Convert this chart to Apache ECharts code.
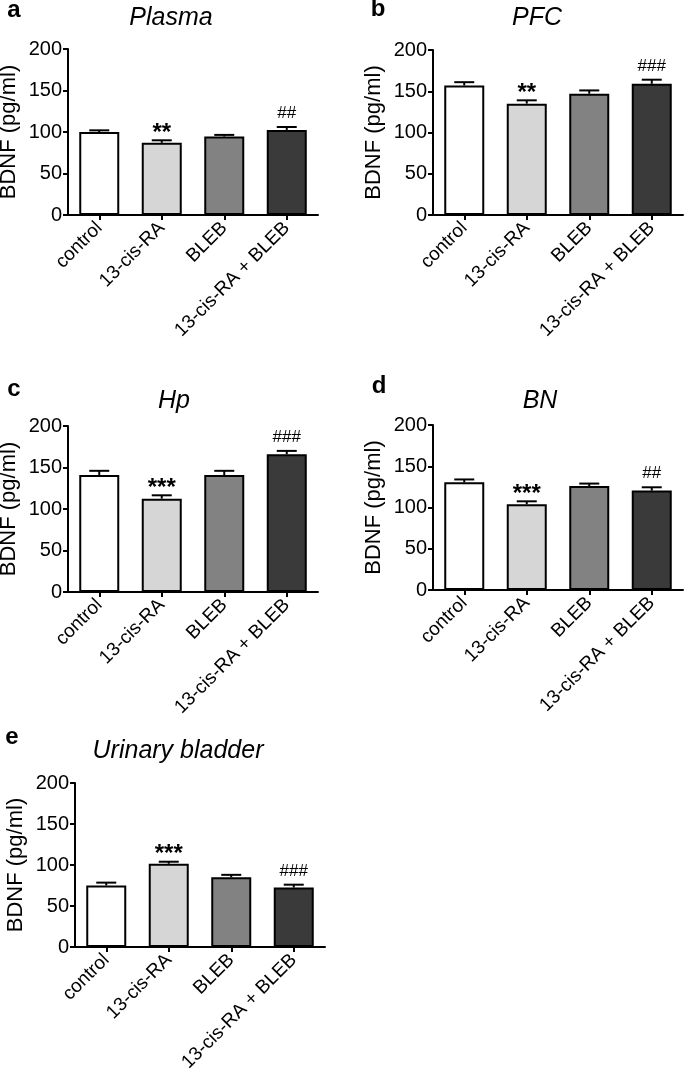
<!DOCTYPE html>
<html>
<head>
<meta charset="utf-8">
<script src="https://cdn.jsdelivr.net/npm/echarts@6/dist/echarts.min.js"></script>
<style>
html,body{margin:0;padding:0;background:#fff;}
#chart{width:685px;height:1071px;}
</style>
</head>
<body>
<div id="chart"></div>
<script>
// ---- data ----
const categories = ['control', '13-cis-RA', 'BLEB', '13-cis-RA + BLEB'];
const yTicks = [0, 50, 100, 150, 200];

const plasmaMean = [100, 87, 94.5, 102.5];
const plasmaErr  = [2, 3, 2, 3.5];
const plasmaMarks = ['', '**', '', '##'];

const pfcMean = [157, 135, 147, 159];
const pfcErr  = [4, 4, 4, 5];
const pfcMarks = ['', '**', '', '###'];

const hpMean = [141, 112.5, 141, 166];
const hpErr  = [5, 4, 5, 4];
const hpMarks = ['', '***', '', '###'];

const bnMean = [130.5, 104, 126, 120.5];
const bnErr  = [3.5, 3.5, 3, 4];
const bnMarks = ['', '***', '', '##'];

const ubMean = [75, 101.5, 85, 72.5];
const ubErr  = [3.5, 2.5, 3, 3.5];
const ubMarks = ['', '***', '', '###'];

const panelLetters = ['a', 'b', 'c', 'd', 'e'];
const panelTitles = ['Plasma', 'PFC', 'Hp', 'BN', 'Urinary bladder'];
const yAxisName = 'BDNF (pg/ml)';

// ---- layout / style ----
const FONT = '"Liberation Sans", Arial, Helvetica, sans-serif';
const barColors = ['#ffffff', '#d6d6d6', '#828282', '#3a3a3a'];

const panels = [
  {mean: plasmaMean, err: plasmaErr, marks: plasmaMarks, grid: {left: 68, top: 49, width: 250, height: 166}, letterPos: [14, 10], titlePos: [171, 18]},
  {mean: pfcMean, err: pfcErr, marks: pfcMarks, grid: {left: 433, top: 50, width: 250, height: 165}, letterPos: [378, 9], titlePos: [537, 18]},
  {mean: hpMean, err: hpErr, marks: hpMarks, grid: {left: 68, top: 426, width: 250, height: 166}, letterPos: [14, 389], titlePos: [174, 401]},
  {mean: bnMean, err: bnErr, marks: bnMarks, grid: {left: 433, top: 425, width: 250, height: 165}, letterPos: [379, 386], titlePos: [540, 401]},
  {mean: ubMean, err: ubErr, marks: ubMarks, grid: {left: 75, top: 783, width: 250, height: 164}, letterPos: [12, 737], titlePos: [178, 751]}
];

const grids = [], xAxes = [], yAxes = [], series = [], graphics = [];

panels.forEach((p, i) => {
  grids.push(Object.assign({containLabel: false, outerBoundsMode: 'none'}, p.grid));
  xAxes.push({
    type: 'category', gridIndex: i, data: categories,
    axisLine: {lineStyle: {color: '#000', width: 2}},
    axisTick: {show: true, alignWithLabel: true, length: 5, lineStyle: {color: '#000', width: 2}},
    axisLabel: {rotate: 45, interval: 0, margin: 10, color: '#000', fontFamily: FONT, fontSize: 19},
    splitLine: {show: false}
  });
  yAxes.push({
    type: 'value', gridIndex: i, min: yTicks[0], max: yTicks[yTicks.length - 1], interval: yTicks[1] - yTicks[0],
    name: yAxisName, nameLocation: 'middle', nameGap: 48, nameRotate: 90,
    nameTextStyle: {color: '#000', fontFamily: FONT, fontSize: 22},
    axisLine: {show: true, lineStyle: {color: '#000', width: 2}},
    axisTick: {show: true, length: 5, lineStyle: {color: '#000', width: 2}},
    axisLabel: {margin: 6, color: '#000', fontFamily: FONT, fontSize: 20},
    splitLine: {show: false}
  });
  series.push({
    type: 'bar', xAxisIndex: i, yAxisIndex: i, barWidth: 40,
    data: p.mean.map((v, k) => ({value: v, itemStyle: {color: barColors[k], borderColor: '#000', borderWidth: 2}})),
    z: 2, silent: true
  });
  series.push({
    type: 'custom', xAxisIndex: i, yAxisIndex: i, z: 3, silent: true,
    data: p.mean.map((v, k) => [k, v, p.err[k]]),
    renderItem: function (params, api) {
      const idx = api.value(0), m = api.value(1), e = api.value(2);
      const mark = p.marks[idx];
      const base = api.coord([idx, m]);
      const top = api.coord([idx, m + e]);
      const children = [
        {type: 'line', shape: {x1: top[0], y1: base[1], x2: top[0], y2: top[1]}, style: {stroke: '#000', lineWidth: 2}},
        {type: 'line', shape: {x1: top[0] - 10, y1: top[1], x2: top[0] + 10, y2: top[1]}, style: {stroke: '#000', lineWidth: 2}}
      ];
      if (mark) {
        const isStar = mark.charAt(0) === '*';
        children.push({
          type: 'text',
          style: {
            text: mark, x: top[0], y: top[1] - (isStar ? 7 : 13.5),
            align: 'center', verticalAlign: 'middle',
            font: (isStar ? 'bold 24px ' : '17px ') + FONT, fill: '#000'
          }
        });
      }
      return {type: 'group', children: children};
    }
  });
  graphics.push({
    type: 'text', x: p.letterPos[0], y: p.letterPos[1],
    style: {text: panelLetters[i], font: 'bold 24px ' + FONT, fill: '#000', align: 'center', verticalAlign: 'middle'}
  });
  graphics.push({
    type: 'text', x: p.titlePos[0], y: p.titlePos[1],
    style: {text: panelTitles[i], font: 'italic 25px ' + FONT, fill: '#000', align: 'center', verticalAlign: 'middle'}
  });
});

const chart = echarts.init(document.getElementById('chart'), null, {renderer: 'canvas'});
chart.setOption({
  backgroundColor: '#ffffff',
  animation: false,
  grid: grids, xAxis: xAxes, yAxis: yAxes, series: series,
  graphic: graphics
});
</script>
</body>
</html>
